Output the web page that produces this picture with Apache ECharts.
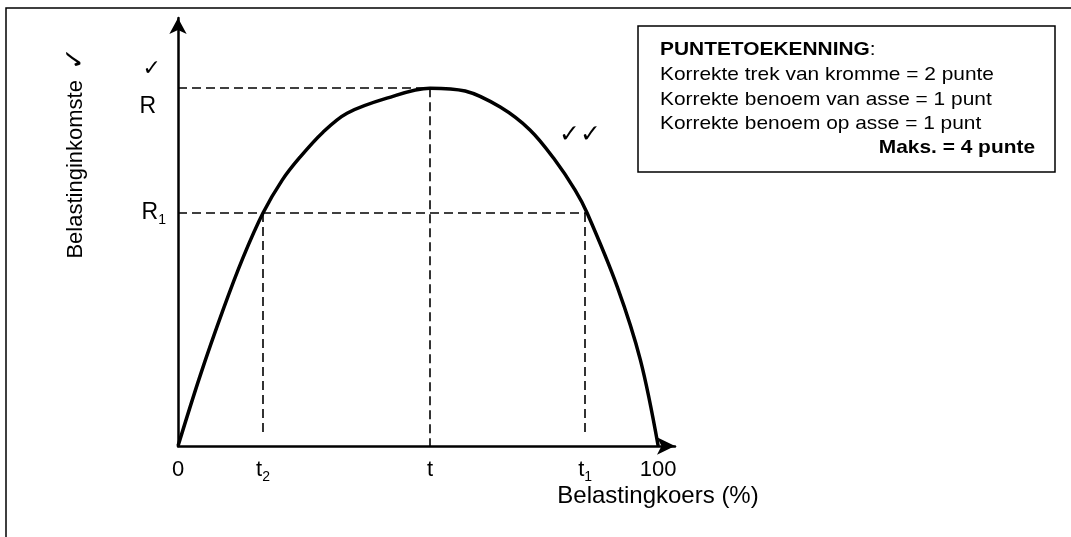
<!DOCTYPE html>
<html>
<head>
<meta charset="utf-8">
<script src="https://cdn.jsdelivr.net/npm/echarts@6/dist/echarts.min.js"></script>
<style>html,body{margin:0;padding:0;background:#fff;}#chart{width:1071px;height:537px;}</style>
</head>
<body>
<div id="chart"></div>
<script>
// Curve: Belastinginkomste (tax revenue) vs Belastingkoers (tax rate, %)
const curveX = [0, 4.6, 9.4, 13.5, 17.7, 21.7, 25.4, 30.2, 35.2, 43.5, 52.5, 59.8, 67.1, 73.3, 78.5, 82.7, 85.2, 91.5, 96.3, 100];
const curveY = [0, 19.6, 38.1, 52.5, 65.1, 74.3, 80.7, 87.7, 93.0, 97.2, 100, 99.2, 94.7, 88.3, 79.9, 71.5, 65.1, 44.4, 24, 0];

// Key values
const R = 100, R1 = 65.1;
const t2 = 17.7, t = 52.5, t1 = 84.8;
const r1LineEnd = 85.4;

// Tick labels
const xTickValues = [0, t2, t, t1, 100];
const xTickLabels = ['0', 't_2', 't', 't_1', '100'];
const yTickValues = [R1, R];
const yTickLabels = ['R_1', 'R'];

const xAxisTitle = 'Belastingkoers (%)';
const yAxisTitle = 'Belastinginkomste';
const checkMark = '\u2713';
const boxTitle = 'PUNTETOEKENNING';
const boxLines = ['Korrekte trek van kromme = 2 punte', 'Korrekte benoem van asse = 1 punt', 'Korrekte benoem op asse = 1 punt'];
const boxTotal = 'Maks. = 4 punte';
const curveMarks = '\u2713\u2713';

const FONT = '"Liberation Sans", Arial, Helvetica, sans-serif';
const CHECKFONT = '"DejaVu Sans", sans-serif';

function fmtSub(s) {
  const p = s.split('_');
  return p.length > 1 ? '{m|' + p[0] + '}{s|' + p[1] + '}' : '{m|' + s + '}';
}

const chart = echarts.init(document.getElementById('chart'), null, {renderer: 'canvas'});

const lines = [];
boxLines.forEach((txt, i) => {
  lines.push({
    type: 'text', x: 660, y: 75 + i * 24.3, scaleX: 1.1, z: 20,
    style: {text: txt, fontFamily: FONT, fontSize: 19, fill: '#000', textAlign: 'left', verticalAlign: 'middle'}
  });
});

const option = {
  backgroundColor: '#fff',
  animation: false,
  grid: {left: 178, right: 396, top: 18, bottom: 91, containLabel: false, outerBoundsMode: 'none'},
  xAxis: {
    type: 'value', min: 0, max: 103.5,
    axisLine: {show: true, symbol: ['none', 'arrow'], symbolSize: [13, 18], lineStyle: {color: '#000', width: 2.5}},
    axisTick: {show: false},
    splitLine: {show: false},
    axisLabel: {
      customValues: xTickValues, margin: 10, color: '#000', fontFamily: FONT, fontSize: 22, lineHeight: 28,
      formatter: function (v) {
        const i = xTickValues.findIndex(function (a) { return Math.abs(a - v) < 1e-6; });
        return i >= 0 ? fmtSub(xTickLabels[i]) : '';
      },
      rich: {m: {fontFamily: FONT, fontSize: 22, lineHeight: 28, color: '#000'}, s: {fontFamily: FONT, fontSize: 14, lineHeight: 14, padding: [14, 0, 0, 0], color: '#000'}}
    },
    name: xAxisTitle, nameLocation: 'end', nameGap: -17, nameMoveOverlap: false,
    nameTextStyle: {fontFamily: FONT, fontSize: 24, color: '#000', align: 'center', verticalAlign: 'top', padding: [38, 0, 0, 0]}
  },
  yAxis: {
    type: 'value', min: 0, max: 119.6,
    axisLine: {show: true, symbol: ['none', 'arrow'], symbolSize: [13, 16], lineStyle: {color: '#000', width: 2.5}},
    axisTick: {show: false},
    splitLine: {show: false},
    axisLabel: {
      customValues: yTickValues, margin: 12, color: '#000', fontFamily: FONT, fontSize: 23, lineHeight: 28,
      formatter: function (v) {
        const i = yTickValues.findIndex(function (a) { return Math.abs(a - v) < 1e-6; });
        if (i < 0) return '';
        const lab = yTickLabels[i];
        if (lab === 'R') return '{ck|' + checkMark + '}\n{rt|R}';
        return fmtSub(lab);
      },
      rich: {
        m: {fontFamily: FONT, fontSize: 23, lineHeight: 28, color: '#000'},
        s: {fontFamily: FONT, fontSize: 14, lineHeight: 14, padding: [14, 0, 0, 0], color: '#000'},
        ck: {fontFamily: CHECKFONT, fontSize: 22, lineHeight: 38, padding: [0, 5, 0, 0], color: '#000'},
        rt: {fontFamily: FONT, fontSize: 23, lineHeight: 38, padding: [0, 10, 0, 0], color: '#000'}
      }
    }
  },
  series: [
    {
      type: 'line', data: [], z: 1, silent: true,
      markLine: {
        silent: true, symbol: ['none', 'none'], label: {show: false},
        lineStyle: {type: [9, 5], width: 1.6, color: '#000'},
        emphasis: {disabled: true},
        data: [
          [{coord: [0, R]}, {coord: [t, R]}],
          [{coord: [t, R]}, {coord: [t, 0]}],
          [{coord: [0, R1]}, {coord: [r1LineEnd, R1]}],
          [{coord: [t2, R1]}, {coord: [t2, 3]}],
          [{coord: [t1, R1]}, {coord: [t1, 3]}]
        ]
      }
    },
    {
      type: 'line', z: 3, silent: true,
      data: curveX.map(function (x, i) { return [x, curveY[i]]; }),
      showSymbol: false, smooth: 0.35,
      lineStyle: {color: '#000', width: 3.5}
    }
  ],
  graphic: [
    {type: 'polyline', z: 10, shape: {points: [[6, 537], [6, 8], [1071, 8]]}, style: {stroke: '#000', lineWidth: 1.5, fill: null}},
    {type: 'rect', z: 10, shape: {x: 638, y: 26, width: 417, height: 146}, style: {stroke: '#000', lineWidth: 1.5, fill: '#fff'}},
    {type: 'text', x: 660, y: 50, scaleX: 1.1, z: 20,
      style: {text: '{b|' + boxTitle + '}:', fontFamily: FONT, fontSize: 19, fill: '#000', textAlign: 'left', verticalAlign: 'middle',
        rich: {b: {fontFamily: FONT, fontSize: 19, fontWeight: 'bold', fill: '#000'}}}},
    ...lines,
    {type: 'text', x: 1035, y: 148, scaleX: 1.1, z: 20,
      style: {text: boxTotal, fontFamily: FONT, fontSize: 19, fontWeight: 'bold', fill: '#000', textAlign: 'right', verticalAlign: 'middle'}},
    {type: 'text', x: 76, y: 153, rotation: Math.PI / 2, z: 20,
      style: {text: '{y|' + yAxisTitle + '}{c|' + checkMark + '}', fontFamily: FONT, fontSize: 22, fill: '#000', textAlign: 'center', verticalAlign: 'middle',
        rich: {y: {fontFamily: FONT, fontSize: 22, fill: '#000'}, c: {fontFamily: CHECKFONT, fontSize: 27, padding: [0, 0, 0, 10], fill: '#000'}}}},
    {type: 'text', x: 580, y: 135, z: 20,
      style: {text: curveMarks, fontFamily: CHECKFONT, fontSize: 25, fill: '#000', textAlign: 'center', verticalAlign: 'middle'}}
  ]
};
chart.setOption(option);
</script>
</body>
</html>
